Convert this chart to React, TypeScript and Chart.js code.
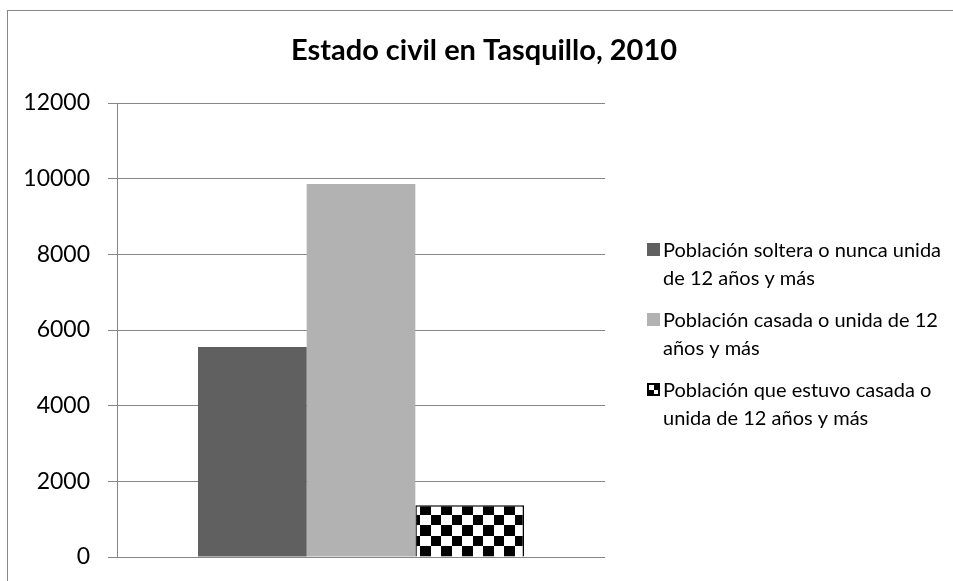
import React, { useEffect, useRef } from 'react';
import { Chart, registerables } from 'chart.js';

Chart.register(...registerables);

// ---- data ----
const chartTitle = 'Estado civil en Tasquillo, 2010';
const categories = [''];
const seriesNames = [
  'Población soltera o nunca unida de 12 años y más',
  'Población casada o unida de 12 años y más',
  'Población que estuvo casada o unida de 12 años y más',
];
const legendLines = [
  ['Población soltera o nunca unida', 'de 12 años y más'],
  ['Población casada o unida de 12', 'años y más'],
  ['Población que estuvo casada o', 'unida de 12 años y más'],
];
const solteraValues = [5550];
const casadaValues = [9860];
const estuvoCasadaValues = [1370];
const yTickValues = [0, 2000, 4000, 6000, 8000, 10000, 12000];

const FONT = 'Lato, "Open Sans", sans-serif';
const GRID = '#868686';
const W = 953;
const H = 581;

function makeChecker(ctx: CanvasRenderingContext2D) {
  const c = document.createElement('canvas');
  c.width = 21;
  c.height = 21;
  const g = c.getContext('2d')!;
  g.fillStyle = '#ffffff';
  g.fillRect(0, 0, 21, 21);
  g.fillStyle = '#000000';
  g.fillRect(0, 0, 11, 11);
  g.fillRect(11, 11, 10, 10);
  return ctx.createPattern(c, 'repeat');
}

const framePlugin = {
  id: 'frame',
  beforeDraw(chart: any) {
    const ctx = chart.ctx as CanvasRenderingContext2D;
    ctx.save();
    ctx.fillStyle = '#ffffff';
    ctx.fillRect(0, 0, chart.width, chart.height);
    ctx.strokeStyle = GRID;
    ctx.lineWidth = 1;
    ctx.strokeRect(7.5, 10.5, chart.width + 20, chart.height + 20);
    ctx.restore();
  },
  afterDraw(chart: any) {
    const ctx = chart.ctx as CanvasRenderingContext2D;
    ctx.save();
    // title
    ctx.font = `bold 29px ${FONT}`;
    ctx.fillStyle = '#000000';
    ctx.textAlign = 'center';
    ctx.textBaseline = 'alphabetic';
    ctx.fillText(chartTitle, 484, 60);

    // legend
    ctx.font = `20px ${FONT}`;
    ctx.textAlign = 'left';
    chart.data.datasets.forEach((ds: any, i: number) => {
      const base = 257 + i * 70;
      const mx = 647;
      const my = base - 14;
      if (i < 2) {
        ctx.fillStyle = ds.backgroundColor;
        ctx.fillRect(mx, my, 13, 13);
      } else {
        ctx.fillStyle = '#000000';
        ctx.fillRect(mx, my, 13, 13);
        ctx.fillStyle = '#ffffff';
        ctx.fillRect(mx + 2, my + 2, 5, 5);
        ctx.fillRect(mx + 7, my + 7, 4, 4);
      }
      ctx.fillStyle = '#000000';
      legendLines[i].forEach((line, j) => {
        ctx.fillText(line, 663, base + j * 28);
      });
    });
    ctx.restore();
  },
};

export default function App() {
  const ref = useRef<HTMLCanvasElement>(null);

  useEffect(() => {
    const canvas = ref.current!;
    const ctx = canvas.getContext('2d')!;
    const checker = makeChecker(ctx);
    const chart = new Chart(canvas, {
      type: 'bar',
      data: {
        labels: categories,
        datasets: [
          {
            label: seriesNames[0],
            data: solteraValues,
            backgroundColor: '#606060',
            borderWidth: 0,
          },
          {
            label: seriesNames[1],
            data: casadaValues,
            backgroundColor: '#b2b2b2',
            borderWidth: 0,
          },
          {
            label: seriesNames[2],
            data: estuvoCasadaValues,
            backgroundColor: checker as any,
            borderColor: '#000000',
            borderWidth: 1.5,
          },
        ],
      },
      options: {
        animation: false,
        responsive: false,
        maintainAspectRatio: false,
        devicePixelRatio: 1,
        layout: { padding: { top: 103, right: 348, bottom: 24, left: 0 } },
        datasets: {
          bar: { barPercentage: 1, categoryPercentage: 0.668 },
        },
        plugins: {
          legend: { display: false },
          title: { display: false },
          tooltip: { enabled: false },
        },
        scales: {
          x: {
            display: false,
          },
          y: {
            min: yTickValues[0],
            max: yTickValues[yTickValues.length - 1],
            afterBuildTicks: (scale: any) => {
              scale.ticks = yTickValues.map((v) => ({ value: v }));
            },
            afterFit: (scale: any) => {
              scale.width = 117;
              scale.paddingTop = 0;
              scale.paddingBottom = 0;
            },
            grid: { color: GRID, lineWidth: 1, tickLength: 9, drawTicks: true },
            border: { display: true, color: GRID, width: 1 },
            ticks: {
              color: '#000000',
              padding: 18,
              font: { family: FONT, size: 23 },
              callback: (v: any) => String(v),
            },
          },
        },
      },
      plugins: [framePlugin],
    });
    document.fonts?.ready.then(() => chart.update());
    return () => chart.destroy();
  }, []);

  return (
    <div style={{ position: 'fixed', left: 0, top: 0, width: W, height: H, background: '#fff' }}>
      <canvas ref={ref} width={W} height={H} style={{ display: 'block', width: W, height: H }} />
    </div>
  );
}
